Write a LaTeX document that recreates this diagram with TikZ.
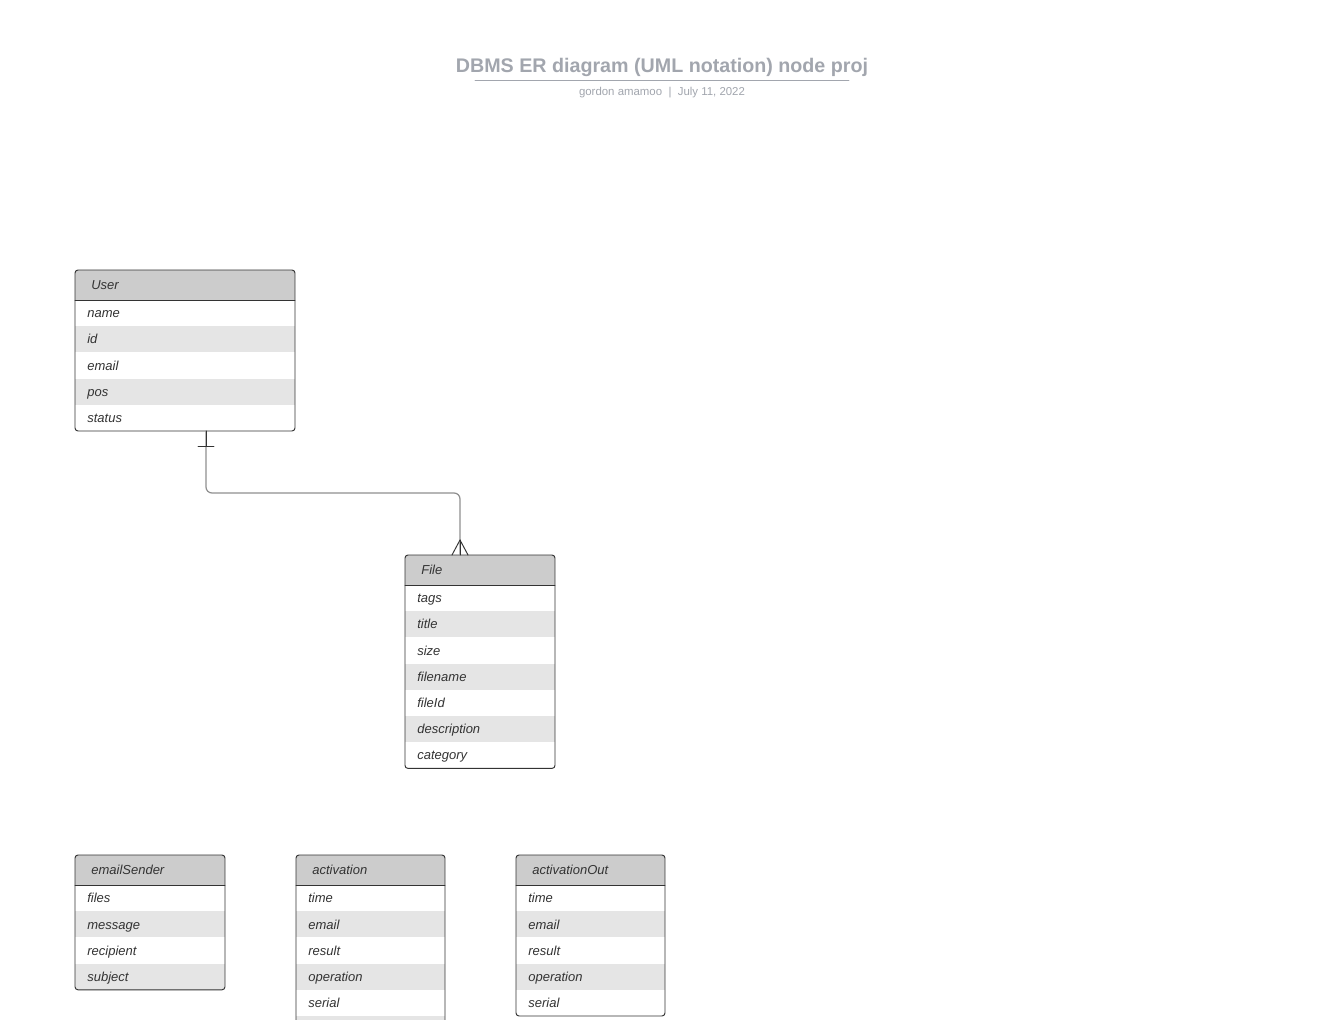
\documentclass[tikz,border=0pt]{standalone}
\usepackage{fontspec}
\setmainfont{Liberation Sans}
\usepackage{tikz}
\definecolor{erhead}{HTML}{CCCCCC}
\definecolor{errow}{HTML}{E5E5E5}
\definecolor{erink}{HTML}{333333}
\definecolor{erline}{HTML}{8F8F8F}
\definecolor{ertitle}{HTML}{A2A6AE}
\newcommand\fieldfont{\fontsize{7.4}{9}\selectfont\itshape}

% one entity box: name, left, top, width, title, fields
\newcommand\erentity[6]{%
  \foreach \f [count=\k] in {#6} {\xdef\ernrows{\k}}
  \pgfmathsetmacro\erbot{#3+30+\ernrows*26.2}
  \begin{scope}
    \clip[rounded corners=1.7pt] (#2,#3) rectangle (#2+#4,\erbot);
    \fill[erhead] (#2,#3) rectangle (#2+#4,#3+30);
    \foreach \f [count=\k] in {#6} {
      \pgfmathsetmacro\rtop{#3+30+(\k-1)*26.2}
      \ifodd\k\else\fill[errow] (#2,\rtop) rectangle (#2+#4,\rtop+26.2);\fi
      \node[field] (#1-\k) at (#2+12,\rtop+17.8) {\f};
    }
  \end{scope}
  \draw[erink,line width=.55pt] (#2,#3+30) -- (#2+#4,#3+30);
  \node[field] (#1-head) at (#2+16,#3+19.8) {#5};
  \draw[erink,line width=.55pt,rounded corners=1.7pt] (#2,#3) rectangle (#2+#4,\erbot);
}

\begin{document}
\begin{tikzpicture}[x=.02cm,y=-.02cm,line cap=round,line join=round,
  field/.style={anchor=base west,inner sep=0pt,font=\fieldfont,text=erink},
  erlink/.style={erline,line width=.7pt},
  ermark/.style={erink,line width=.55pt}]
\useasboundingbox (0,0) rectangle (1320,1020);
\clip (0,0) rectangle (1320,1020);
\fill[white] (0,0) rectangle (1320,1020);

% title block
\node[anchor=base,inner sep=0pt,text=ertitle,font=\fontsize{11.2}{13}\selectfont\bfseries]
  (title) at (662,72.5) {DBMS ER diagram (UML notation) node proj};
\draw[ertitle,line width=.55pt] (475,80.5) -- (849,80.5);
\node[anchor=base,inner sep=0pt,text=ertitle,font=\fontsize{6.5}{8}\selectfont]
  (byline) at (662,96) {gordon amamoo~~|~~July 11, 2022};

% entities
\erentity{user}{75}{270}{220}{User}{name,id,email,pos,status}
\erentity{file}{405}{555}{150}{File}{tags,title,size,filename,fileId,description,category}
\erentity{mail}{75}{855}{150}{emailSender}{files,message,recipient,subject}
\erentity{act}{296}{855}{149}{activation}{time,email,result,operation,serial,{}}
\erentity{actout}{516}{855}{149}{activationOut}{time,email,result,operation,serial}

% one user -- many files
\coordinate (user-s) at (206,431);
\coordinate (file-n) at (460,555);
\coordinate (bend) at (460,493);
\draw[erlink,rounded corners=3.4pt] (user-s) |- (bend) -- (file-n);
\draw[ermark] (user-s) -- ++(0,15);
\draw[ermark] (user-s) ++(-8,15) -- ++(16,0);
\draw[ermark] (file-n) ++(-8,0) -- ++(8,-15) -- ++(8,15);
\draw[ermark] (file-n) -- ++(0,-15);
\end{tikzpicture}
\end{document}
